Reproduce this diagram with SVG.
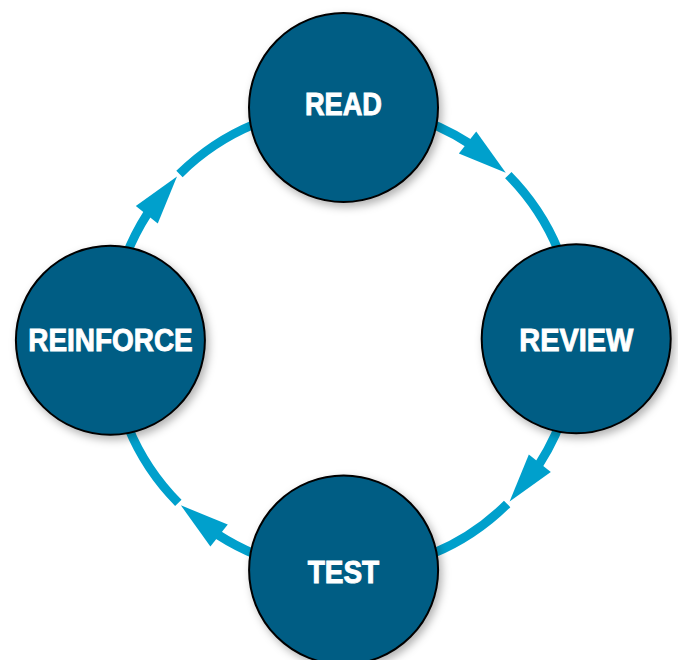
<svg xmlns="http://www.w3.org/2000/svg" width="678" height="660" viewBox="0 0 678 660">
  <style>
    .ring { fill: none; stroke: #00a0cc; stroke-width: 9; stroke-linecap: butt; }
    .head { fill: #00a0cc; stroke: none; }
    .node circle { fill: #005d84; stroke: #000000; stroke-width: 2; filter: url(#shadow); }
    .node text { fill: #ffffff; stroke: #ffffff; stroke-width: 0.9; font-family: "Liberation Sans", Arial, sans-serif; font-weight: bold; font-size: 31px; text-anchor: middle; }
  </style>
  <defs>
    <filter id="shadow" x="-20%" y="-20%" width="150%" height="150%">
      <feDropShadow dx="3" dy="4" stdDeviation="4" flood-color="#000000" flood-opacity="0.3"/>
    </filter>
    <g id="arrow">
      <path class="ring" d="M343.3,106.5 A232.5,232.5 0 0 1 468.91,143.35"/>
      <polygon class="head" points="458.86,153.46 505.78,172.70 476.22,131.50"/>
      <path class="ring" d="M508.28,175.17 A232.5,232.5 0 0 1 575.8,339"/>
    </g>
  </defs>
  <rect width="678" height="660" fill="#ffffff"/>
  <g id="connectors">
    <use href="#arrow"/>
    <use href="#arrow" transform="rotate(90 343.3 339)"/>
    <use href="#arrow" transform="rotate(180 343.3 339)"/>
    <use href="#arrow" transform="rotate(270 343.3 339)"/>
  </g>
  <g id="node-read" class="node">
    <circle cx="343.5" cy="107.5" r="94.5"/>
    <text x="343.5" y="115" textLength="77" lengthAdjust="spacingAndGlyphs">READ</text>
  </g>
  <g id="node-review" class="node">
    <circle cx="576.2" cy="338.8" r="94.5"/>
    <text x="576.3" y="351" textLength="114" lengthAdjust="spacingAndGlyphs">REVIEW</text>
  </g>
  <g id="node-test" class="node">
    <circle cx="343.6" cy="570" r="94.5"/>
    <text x="343.4" y="583.3" textLength="71.5" lengthAdjust="spacingAndGlyphs">TEST</text>
  </g>
  <g id="node-reinforce" class="node">
    <circle cx="110.4" cy="340.3" r="94.5"/>
    <text x="110.5" y="351" textLength="164.5" lengthAdjust="spacingAndGlyphs">REINFORCE</text>
  </g>
</svg>
